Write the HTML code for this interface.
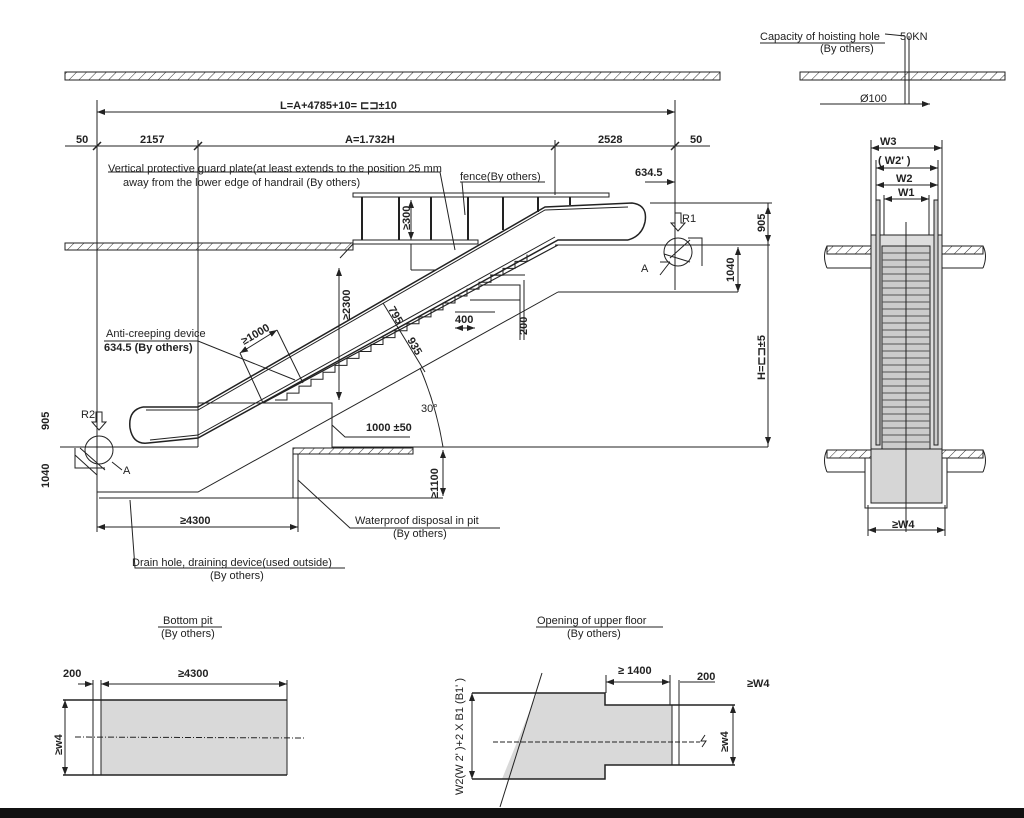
<!DOCTYPE html>
<html><head><meta charset="utf-8"><style>
html,body{margin:0;padding:0;background:#fff;}
svg{display:block;}
text{font-family:"Liberation Sans",sans-serif;fill:#222;}
.t{font-size:11px;}
.b{font-size:11px;font-weight:bold;}
</style></head><body>
<svg width="1024" height="818" viewBox="0 0 1024 818" xmlns="http://www.w3.org/2000/svg">
<defs>
<pattern id="h" width="7" height="7" patternUnits="userSpaceOnUse" patternTransform="rotate(45)">
<line x1="0" y1="0" x2="0" y2="7" stroke="#333" stroke-width="1"/>
</pattern>
<marker id="a" markerWidth="8" markerHeight="6" refX="8" refY="3" orient="auto-start-reverse" markerUnits="userSpaceOnUse"><path d="M0,0 L8,3 L0,6z" fill="#222"/></marker>
</defs>
<g stroke="#222" fill="none" stroke-width="1">
<!-- ceiling hatches -->
<rect x="65" y="72" width="655" height="8" fill="url(#h)"/>
<rect x="800" y="72" width="205" height="8" fill="url(#h)"/>
<rect x="65" y="243" width="288" height="7" fill="url(#h)"/>
<!-- hoisting -->
<line x1="905" y1="36" x2="905" y2="104"/><line x1="909" y1="36" x2="909" y2="104"/>
<line x1="820" y1="104" x2="930" y2="104" marker-end="url(#a)"/>
<line x1="885" y1="34" x2="905" y2="36"/>
<!-- L dim -->
<line x1="97" y1="112" x2="675" y2="112" marker-start="url(#a)" marker-end="url(#a)"/>
<line x1="65" y1="146" x2="710" y2="146"/>
<g stroke-width="1.5"><line x1="93" y1="150" x2="101" y2="142"/><line x1="194" y1="150" x2="202" y2="142"/><line x1="551" y1="150" x2="559" y2="142"/><line x1="671" y1="150" x2="679" y2="142"/></g>
<line x1="97" y1="100" x2="97" y2="532"/>
<line x1="198" y1="140" x2="198" y2="447"/>
<line x1="555" y1="140" x2="555" y2="195"/>
<line x1="675" y1="100" x2="675" y2="290"/>
<!-- fence -->
<rect x="353" y="193" width="256" height="4"/>
<rect x="353" y="240" width="125" height="4"/>
<g stroke-width="2"><line x1="362" y1="197" x2="362" y2="240"/><line x1="399" y1="197" x2="399" y2="240"/><line x1="431" y1="197" x2="431" y2="240"/><line x1="468" y1="197" x2="468" y2="240"/><line x1="503" y1="197" x2="503" y2="230"/><line x1="538" y1="197" x2="538" y2="212"/><line x1="570" y1="197" x2="570" y2="205"/></g>
<line x1="411" y1="244" x2="411" y2="270"/><line x1="411" y1="270" x2="435" y2="270"/>
<line x1="411" y1="200" x2="411" y2="240" marker-start="url(#a)" marker-end="url(#a)"/>
<path d="M353 244 L340 258"/>
<!-- handrail -->
<path d="M143 407 L198 407 L545 207 L632 203 Q648 205 645 222 Q642 236 628 240" stroke-width="1.5"/>
<path d="M146 410 L198 410 L545 210 L628 207" />
<path d="M143 407 Q128 410 130 428 Q133 445 148 443 L198 438 L558 240 L628 240" stroke-width="1.5"/>
<path d="M150 440 L198 435 L555 237"/>
<line x1="263" y1="403" x2="558" y2="245" stroke-width="1.2"/>
<path d="M275 400 h12 v-6.93 h12 v-6.93 h12 v-6.93 h12 v-6.93 h12 v-6.93 h12 v-6.93 h12 v-6.93 h12 v-6.93 h12 v-6.93 h12 v-6.93 h12 v-6.93 h12 v-6.93 h12 v-6.93 h12 v-6.93 h12 v-6.93 h12 v-6.93 h12 v-6.93 h12 v-6.93 h12 v-6.93 h12 v-6.93 h12 v-6.93"/>
<!-- upper structure right -->
<line x1="628" y1="245" x2="770" y2="245"/>
<line x1="555" y1="245" x2="628" y2="245"/>
<path d="M558 292 L738 292"/>
<path d="M558 292 L198 492 L97 492"/>
<path d="M480 285 h40 v55 M470 300 h50 M455 312 h40 M490 275 h35"/>
<line x1="524" y1="280" x2="524" y2="340"/>
<line x1="455" y1="328" x2="475" y2="328" marker-start="url(#a)" marker-end="url(#a)"/>
<line x1="768" y1="203" x2="768" y2="447" />
<line x1="650" y1="203" x2="772" y2="203"/>
<line x1="738" y1="247" x2="738" y2="292" marker-start="url(#a)" marker-end="url(#a)"/>
<line x1="768" y1="206" x2="768" y2="243" marker-start="url(#a)" marker-end="url(#a)"/>
<line x1="768" y1="250" x2="768" y2="445" marker-end="url(#a)"/>
<line x1="645" y1="182" x2="675" y2="182" marker-end="url(#a)"/>
<!-- R1 -->
<circle cx="678" cy="252" r="14"/>
<path d="M670 258 L690 240 M664 254 L690 262 M660 262 h10 M688 238 h14 v28"/>
<path d="M675 213 v10 h-4 l7 8 l7 -8 h-4 v-10z"/>
<path d="M660 275 L670 262"/>
<!-- lower -->
<line x1="60" y1="447" x2="198" y2="447"/>
<path d="M198 403 L332 403 L332 447 L768 447"/>
<rect x="293" y="448" width="120" height="6" fill="url(#h)"/>
<line x1="293" y1="448" x2="293" y2="498"/><line x1="298" y1="454" x2="298" y2="498"/>
<line x1="99" y1="498" x2="443" y2="498"/>
<line x1="443" y1="450" x2="443" y2="496" marker-start="url(#a)" marker-end="url(#a)"/>
<circle cx="99" cy="450" r="14"/>
<path d="M75 455 L97 475 M80 448 L105 470 M75 448 v20 h30"/>
<path d="M96 412 v10 h-4 l7 8 l7 -8 h-4 v-10z"/>
<path d="M112 462 L122 470"/>
<line x1="97" y1="527" x2="298" y2="527" marker-start="url(#a)" marker-end="url(#a)"/>
<line x1="298" y1="498" x2="298" y2="532"/>
<!-- dims on escalator -->
<line x1="339" y1="268" x2="339" y2="400" marker-start="url(#a)" marker-end="url(#a)"/>
<line x1="383" y1="303" x2="425" y2="372"/>
<path d="M420 368 Q436 405 443 447"/>
<line x1="240" y1="353" x2="277" y2="330" marker-start="url(#a)" marker-end="url(#a)"/>
<line x1="240" y1="353" x2="263" y2="403"/><line x1="277" y1="330" x2="303" y2="383"/>
<path d="M104 341 L198 341 L295 380"/>
<path d="M332 425 L345 437 L410 437"/>
<path d="M108 172 L440 172 L455 250"/>
<path d="M460 182 L545 182 M462 182 L465 215"/>
<path d="M298 480 L350 528 L500 528"/>
<path d="M130 500 L135 568 L345 568"/>
<!-- plan view -->
<line x1="871" y1="140" x2="871" y2="235"/><line x1="942" y1="140" x2="942" y2="235"/>
<line x1="871" y1="148" x2="942" y2="148" marker-start="url(#a)" marker-end="url(#a)"/>
<line x1="876" y1="168" x2="938" y2="168" marker-start="url(#a)" marker-end="url(#a)"/>
<line x1="876" y1="185" x2="938" y2="185" marker-start="url(#a)" marker-end="url(#a)"/>
<line x1="884" y1="199" x2="929" y2="199" marker-start="url(#a)" marker-end="url(#a)"/>
<line x1="876" y1="160" x2="876" y2="200"/><line x1="938" y1="160" x2="938" y2="200"/>
<line x1="884" y1="195" x2="884" y2="246"/><line x1="929" y1="195" x2="929" y2="246"/>
<rect x="871" y="235" width="71" height="215" fill="#ddd"/>
<rect x="876" y="200" width="4" height="245" fill="#ccc"/>
<rect x="934" y="200" width="4" height="245" fill="#ccc"/>
<rect x="882" y="246" width="48" height="203" fill="#ccc"/>
<path d="M882 253h48M882 260h48M882 267h48M882 274h48M882 281h48M882 288h48M882 295h48M882 302h48M882 309h48M882 316h48M882 323h48M882 330h48M882 337h48M882 344h48M882 351h48M882 358h48M882 365h48M882 372h48M882 379h48M882 386h48M882 393h48M882 400h48M882 407h48M882 414h48M882 421h48M882 428h48M882 435h48M882 442h48" stroke="#555"/>
<rect x="871" y="449" width="71" height="54" fill="#d6d6d6"/>
<path d="M865 458 v50 h82 v-50"/>
<line x1="906" y1="222" x2="906" y2="532"/>
<rect x="827" y="246" width="44" height="8" fill="url(#h)"/><path d="M827 254 h44 M827 268 h44 M827 246 q-5 10 0 22"/>
<rect x="942" y="246" width="41" height="8" fill="url(#h)"/><path d="M942 254 h41 M942 268 h41 M983 246 q5 10 0 22"/>
<rect x="827" y="450" width="44" height="8" fill="url(#h)"/><path d="M827 458 h38 M827 472 h38 M827 450 q-5 10 0 22"/>
<rect x="942" y="450" width="41" height="8" fill="url(#h)"/><path d="M947 458 h36 M947 472 h36 M983 450 q5 10 0 22"/>
<line x1="868" y1="530" x2="945" y2="530" marker-start="url(#a)" marker-end="url(#a)"/>
<line x1="868" y1="505" x2="868" y2="536"/><line x1="945" y1="505" x2="945" y2="536"/>
<!-- bottom pit -->
<rect x="101" y="700" width="186" height="75" fill="#d9d9d9" stroke="none"/>
<line x1="63" y1="700" x2="287" y2="700" stroke-width="1.5"/><line x1="63" y1="775" x2="287" y2="775" stroke-width="1.5"/>
<line x1="93" y1="680" x2="93" y2="775"/><line x1="101" y1="680" x2="101" y2="775"/><line x1="287" y1="680" x2="287" y2="775"/>
<line x1="101" y1="684" x2="287" y2="684" marker-start="url(#a)" marker-end="url(#a)"/>
<line x1="78" y1="684" x2="93" y2="684" marker-end="url(#a)"/>
<line x1="65" y1="700" x2="65" y2="775" marker-start="url(#a)" marker-end="url(#a)"/>
<line x1="75" y1="737" x2="305" y2="738" stroke-dasharray="6 2 1 2"/>
<line x1="158" y1="627" x2="222" y2="627"/>
<!-- opening -->
<polygon points="537,693 605,693 605,705 672,705 672,765 605,765 605,779 502,779" fill="#d9d9d9" stroke="none"/>
<path d="M472 693 H605 V705 H735 M472 779 H605 V765 H735" stroke-width="1.5"/>
<line x1="542" y1="673" x2="500" y2="807"/>
<line x1="672" y1="705" x2="672" y2="765"/><line x1="679" y1="680" x2="679" y2="765"/>
<line x1="606" y1="682" x2="670" y2="682" marker-start="url(#a)" marker-end="url(#a)"/>
<line x1="606" y1="675" x2="606" y2="693"/><line x1="670" y1="675" x2="670" y2="705"/>
<line x1="680" y1="682" x2="715" y2="682"/>
<line x1="472" y1="693" x2="472" y2="779" marker-start="url(#a)" marker-end="url(#a)"/>
<line x1="733" y1="705" x2="733" y2="765" marker-start="url(#a)" marker-end="url(#a)"/>
<line x1="493" y1="742" x2="700" y2="742" stroke-dasharray="5 2"/>
<path d="M705 735 l-4 6 h5 l-4 6"/>
<line x1="536" y1="627" x2="663" y2="627"/>
</g>
<rect x="0" y="808" width="1024" height="10" fill="#111"/>
<!-- text -->
<text class="t" x="760" y="40">Capacity of hoisting hole</text><text class="t" x="900" y="40">50KN</text>
<line x1="760" y1="43" x2="885" y2="43" stroke="#222"/>
<text class="t" x="820" y="52">(By others)</text>
<text class="t" x="860" y="102">Ø100</text>
<text class="b" x="280" y="109">L=A+4785+10= ⊏⊐±10</text>
<text class="b" x="76" y="143">50</text><text class="b" x="140" y="143">2157</text>
<text class="b" x="345" y="143">A=1.732H</text><text class="b" x="598" y="143">2528</text><text class="b" x="690" y="143">50</text>
<text class="t" x="108" y="172">Vertical protective guard plate(at least extends to the position 25 mm</text>
<text class="t" x="123" y="186">away from the lower edge of handrail (By others)</text>
<text class="t" x="460" y="180">fence(By others)</text>
<text class="b" x="635" y="176">634.5</text>
<text class="t" x="682" y="222">R1</text><text class="t" x="641" y="272">A</text>
<text class="t" x="81" y="418">R2</text><text class="t" x="123" y="474">A</text>
<text class="t" x="106" y="337">Anti-creeping device</text>
<text class="b" x="104" y="351">634.5 (By others)</text>
<text class="b" x="366" y="431">1000 ±50</text>
<text class="t" x="421" y="412">30°</text>
<text class="b" x="455" y="323">400</text>
<text class="t" x="355" y="524">Waterproof disposal in pit</text>
<text class="t" x="393" y="537">(By others)</text>
<text class="b" x="180" y="524">≥4300</text>
<text class="t" x="132" y="566">Drain hole, draining device(used outside)</text>
<text class="t" x="210" y="579">(By others)</text>
<g class="b" font-size="11" font-weight="bold">
<text transform="translate(410,230) rotate(-90)" class="b">≥300</text>
<text transform="translate(350,320) rotate(-90)" class="b">≥2300</text>
<text transform="translate(527,335) rotate(-90)" class="b">200</text>
<text transform="translate(765,232) rotate(-90)" class="b">905</text>
<text transform="translate(734,282) rotate(-90)" class="b">1040</text>
<text transform="translate(765,380) rotate(-90)" class="b">H=⊏⊐±5</text>
<text transform="translate(49,430) rotate(-90)" class="b">905</text>
<text transform="translate(49,488) rotate(-90)" class="b">1040</text>
<text transform="translate(438,498) rotate(-90)" class="b">≥1100</text>
<text transform="translate(388,309) rotate(60)" class="b">795</text>
<text transform="translate(407,340) rotate(60)" class="b">935</text>
<text transform="translate(244,345) rotate(-30)" class="b">≥1000</text>
</g>
<text class="b" x="880" y="145">W3</text><text class="b" x="878" y="164">( W2' )</text>
<text class="b" x="896" y="182">W2</text><text class="b" x="898" y="196">W1</text>
<text class="b" x="892" y="528">≥W4</text>
<text class="t" x="163" y="624">Bottom pit</text><text class="t" x="161" y="637">(By others)</text>
<text class="b" x="63" y="677">200</text><text class="b" x="178" y="677">≥4300</text>
<text transform="translate(62,755) rotate(-90)" class="b">≥w4</text>
<text class="t" x="537" y="624">Opening of upper floor</text><text class="t" x="567" y="637">(By others)</text>
<text class="b" x="618" y="674">≥ 1400</text><text class="b" x="697" y="680">200</text><text class="b" x="747" y="687">≥W4</text>
<text transform="translate(728,752) rotate(-90)" class="b">≥w4</text>
<text transform="translate(463,795) rotate(-90)" class="t">W2(W 2' )+2 X B1 (B1' )</text>
</svg>
</body></html>
